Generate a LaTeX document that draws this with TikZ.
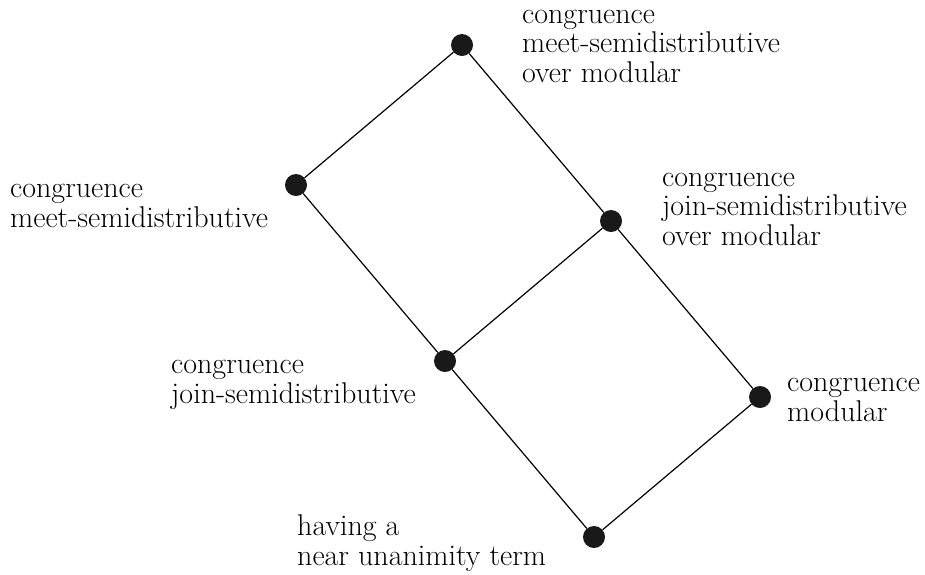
\documentclass[tikz,border=0pt]{standalone}
\usepackage{fontspec}
\usetikzlibrary{positioning}

\begin{document}
\begin{tikzpicture}[x=1pt,y=1pt,on grid,
  dot/.style={circle,fill=black!90,inner sep=0pt,minimum size=22pt},
  lbl/.style={align=left,anchor=base west,inner sep=0pt,
    font=\fontsize{30}{29.5}\selectfont}]
 \useasboundingbox (0,0) rectangle (925,-574);
 % lattice points
 \node[dot] (v_0) at (462,-45) {};
 \node[dot] (v_1) [below left=140pt and 166pt of v_0] {};
 \node[dot] (v_2) [below right=176pt and 149pt of v_0] {};
 \node[dot] (v_3) [below right=176pt and 149pt of v_1] {};
 \node[dot] (v_4) [below right=176pt and 149pt of v_2] {};
 \node[dot] (v_5) [below right=176pt and 149pt of v_3] {};
 % labels (anchored at the baseline of their last line)
 \node[lbl] (l_0) at (522,-82) {congruence\\meet-semidistributive\\over modular};
 \node[lbl] (l_1) at (10,-227) {congruence\\meet-semidistributive};
 \node[lbl] (l_2) at (662,-245) {congruence\\join-semidistributive\\over modular};
 \node[lbl] (l_3) at (171,-403) {congruence\\join-semidistributive};
 \node[lbl] (l_4) at (787,-421) {congruence\\modular};
 \node[lbl] (l_5) at (297,-565) {having a\\near unanimity term};
 \draw[line width=1.2pt]
  (v_0) -- (v_1) (v_0) -- (v_2)
  (v_1) -- (v_3) (v_2) -- (v_3)
  (v_2) -- (v_4) (v_3) -- (v_5)
  (v_4) -- (v_5);
\end{tikzpicture}
\end{document}
